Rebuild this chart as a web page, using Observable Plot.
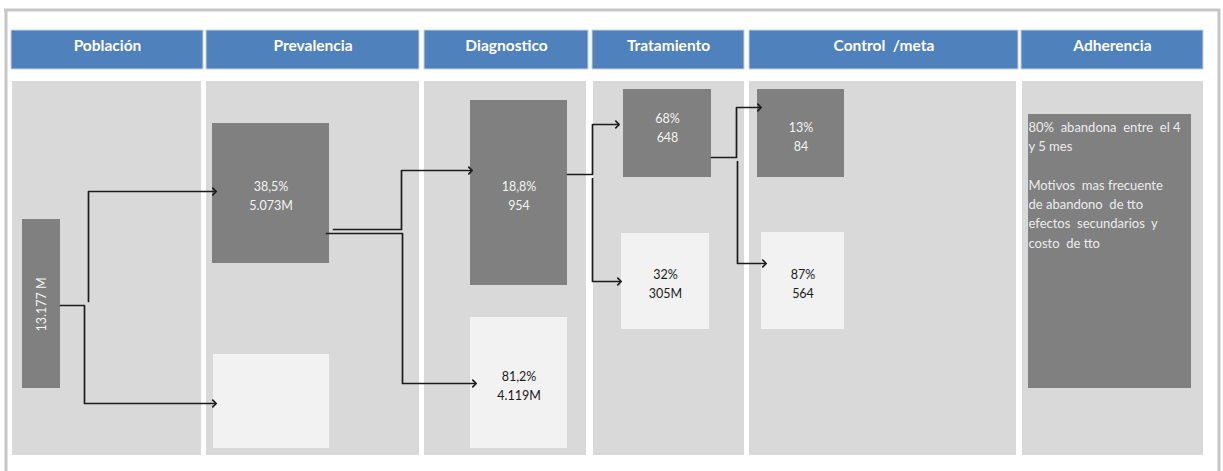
<!DOCTYPE html>
<html>
<head>
<meta charset="utf-8">
<script src="https://cdn.jsdelivr.net/npm/d3@7"></script>
<script src="https://cdn.jsdelivr.net/npm/@observablehq/plot@0.6"></script>
<style>
  html, body { margin: 0; padding: 0; background: #fff; }
  svg text { white-space: pre; }
</style>
</head>
<body>
<div id="chart"></div>
<script>
// ---- data ----
const stages = ["Población", "Prevalencia", "Diagnostico", "Tratamiento", "Control  /meta", "Adherencia"];
const boxStage = ["Población", "Prevalencia", "Prevalencia", "Diagnostico", "Diagnostico", "Tratamiento", "Tratamiento", "Control  /meta", "Control  /meta", "Adherencia"];
const boxTone  = ["dark", "dark", "light", "dark", "light", "dark", "light", "dark", "light", "dark"];
const boxPct   = ["", "38,5%", "", "18,8%", "81,2%", "68%", "32%", "13%", "87%", ""];
const boxValue = ["13.177 M", "5.073M", "", "954", "4.119M", "648", "305M", "84", "564", ""];
const adherenciaText = [
  "80%  abandona  entre  el 4",
  "y 5 mes",
  "",
  "Motivos  mas frecuente",
  "de abandono  de tto",
  "efectos  secundarios  y",
  "costo  de tto"
];

// ---- layout (pixel positions of the diagram) ----
const headerX = [[11, 203], [206, 419], [424, 588], [592, 744], [749, 1018], [1021, 1203]];
const headerY = [30, 69];
const panelX  = [[12, 201], [206, 419], [424, 586], [593, 744], [749, 1016], [1022, 1203]];
const panelY  = [81, 455];
const boxRect = [
  [22, 60, 219, 388], [212, 329, 123, 263], [213, 329, 354, 448],
  [470, 567, 100, 285], [470, 567, 317, 448], [623, 711, 89, 177],
  [621, 709, 233, 329], [757, 844, 89, 177], [761, 844, 232, 329],
  [1028, 1191, 114, 388]
];
const labelY = [304, 194, null, 193.5, 383.5, 125.5, 282, 134.5, 282, null];
const links = [
  [[88, 301], [88, 191], [214, 191]],
  [[60, 305], [84, 305], [84, 403], [214, 403]],
  [[333, 229], [401, 229], [401, 170], [470, 170]],
  [[326, 233], [402, 233], [402, 383], [474, 383]],
  [[567, 174], [592, 174], [592, 124], [617, 124]],
  [[592, 178], [592, 281], [619, 281]],
  [[711, 157], [736, 157], [736, 107], [759, 107]],
  [[737, 161], [737, 263], [764, 263]]
];

// ---- build tables ----
const headers = stages.map((s, i) => ({s, x1: headerX[i][0], x2: headerX[i][1], y1: headerY[0], y2: headerY[1]}));
const panels = stages.map((s, i) => ({s, x1: panelX[i][0], x2: panelX[i][1], y1: panelY[0], y2: panelY[1]}));
const boxes = boxStage.map((s, i) => ({
  s, tone: boxTone[i],
  text: [boxPct[i], boxValue[i]].filter(d => d).join("\n"),
  x1: boxRect[i][0], x2: boxRect[i][1], y1: boxRect[i][2], y2: boxRect[i][3],
  ly: labelY[i]
}));
const normalBoxes = boxes.filter((b, i) => i > 0 && b.text && b.s !== "Adherencia");
const linkPts = links.flatMap((pts, k) => pts.map(([x, y]) => ({k, x, y})));

const FONT = "Lato, 'Open Sans', sans-serif";

const chart = Plot.plot({
  width: 1223, height: 471,
  margin: 0,
  x: {domain: [0, 1223], range: [0, 1223], axis: null},
  y: {domain: [0, 471], range: [0, 471], axis: null},
  style: {fontFamily: FONT, background: "#fff"},
  marks: [
    // outer frame
    Plot.ruleX([5.5, 1218.5], {y1: 9.5, y2: 471, stroke: "#c6c6c6", strokeWidth: 3}),
    Plot.ruleY([9.5], {x1: 4, x2: 1220, stroke: "#c6c6c6", strokeWidth: 3}),
    // headers
    Plot.rect(headers, {x1: "x1", x2: "x2", y1: "y1", y2: "y2", fill: "#4f81bd", stroke: "#c5d4e8", strokeWidth: 1}),
    Plot.text(headers, {x: d => (d.x1 + d.x2) / 2, y: d => (d.y1 + d.y2) / 2 - 4, text: "s", fill: "white", fontWeight: "bold", fontSize: 15.5}),
    // panels
    Plot.rect(panels, {x1: "x1", x2: "x2", y1: "y1", y2: "y2", fill: "#d9d9d9"}),
    // boxes
    Plot.rect(boxes, {x1: "x1", x2: "x2", y1: "y1", y2: "y2", fill: d => d.tone === "dark" ? "#808080" : "#f2f2f2"}),
    // connectors
    Plot.line(linkPts, {x: "x", y: "y", z: "k", stroke: "#1c1c1c", strokeWidth: 1.7, markerEnd: "arrow"}),
    // box labels
    Plot.text(normalBoxes, {
      x: d => (d.x1 + d.x2) / 2, y: "ly", text: "text",
      fill: d => d.tone === "dark" ? "#f4f4f4" : "#1a1a1a",
      fontSize: 12.5, lineHeight: 1.55
    }),
    Plot.text([boxes[0]], {
      x: d => (d.x1 + d.x2) / 2, y: "ly", text: "text", rotate: -90,
      fill: "#f4f4f4", fontSize: 12.5
    }),
    Plot.text([adherenciaText.join("\n")], {
      x: 1028, y: 183, text: d => d, textAnchor: "start", lineAnchor: "middle",
      fill: "#ececec", fontSize: 13, lineHeight: 1.49
    })
  ]
});
document.getElementById("chart").appendChild(chart);
</script>
</body>
</html>
